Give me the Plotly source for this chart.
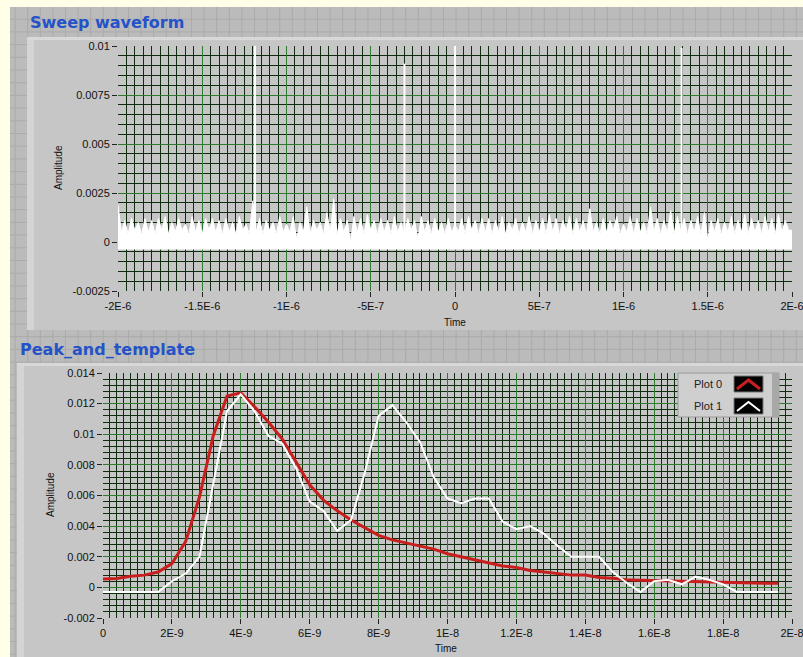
import plotly.graph_objects as go

W, H = 803, 657

# ---------------- data ----------------
# Sweep waveform (top): noise envelope samples, t0 and dt of the waveform
sweep_t0 = -2e-6
sweep_dt = 2e-8
sweep_base = -0.00036
sweep_noise = [
    0.0019, 0.0005, 0.0011, 0.0004, 0.0012, 0.0006, 0.0010, 0.0004, 0.0012, 0.0005,
    0.0011, 0.0004, 0.0012, 0.0006, 0.0013, 0.0004, 0.0010, 0.0005, 0.0012, 0.0006,
    0.0009, 0.0004, 0.0013, 0.0005, 0.0011, 0.0004, 0.0012, 0.0006, 0.0012, 0.0005,
    0.0011, 0.0004, 0.0012, 0.0005, 0.0010, 0.0004, 0.0013, 0.0006, 0.0009, 0.0004,
    0.0021, 0.0005, 0.0012, 0.0004, 0.0011, 0.0006, 0.0010, 0.0004, 0.0013, 0.0005,
    0.0009, 0.0005, 0.0013, 0.0001, 0.0010, 0.0005, 0.0018, 0.0004, 0.0011, 0.0006,
    0.0010, 0.0004, 0.0015, 0.0005, 0.0022, 0.0004, 0.0012, 0.0005, 0.0011, 0.0000,
    0.0013, 0.0005, 0.0012, 0.0004, 0.0014, 0.0006, 0.0011, 0.0004, 0.0012, 0.0005,
    0.0011, 0.0004, 0.0013, 0.0005, 0.0010, 0.0004, 0.0012, 0.0006, 0.0011, 0.0001,
    0.0013, 0.0005, 0.0011, 0.0004, 0.0012, 0.0005, 0.0010, 0.0004, 0.0012, 0.0005,
    0.0009, 0.0005, 0.0012, 0.0004, 0.0013, 0.0006, 0.0011, 0.0004, 0.0012, 0.0005,
    0.0012, 0.0004, 0.0011, 0.0005, 0.0013, 0.0004, 0.0010, 0.0006, 0.0012, 0.0004,
    0.0010, 0.0005, 0.0013, 0.0004, 0.0011, 0.0005, 0.0012, 0.0004, 0.0014, 0.0005,
    0.0012, 0.0004, 0.0011, 0.0006, 0.0013, 0.0004, 0.0012, 0.0005, 0.0011, 0.0004,
    0.0017, 0.0005, 0.0010, 0.0004, 0.0012, 0.0005, 0.0011, 0.0006, 0.0013, 0.0004,
    0.0009, 0.0005, 0.0013, 0.0004, 0.0012, 0.0005, 0.0010, 0.0004, 0.0018, 0.0005,
    0.0012, 0.0004, 0.0011, 0.0005, 0.0016, 0.0004, 0.0013, 0.0005, 0.0012, 0.0004,
    0.0011, 0.0005, 0.0013, 0.0004, 0.0015, 0.0001, 0.0011, 0.0005, 0.0012, 0.0004,
    0.0010, 0.0005, 0.0013, 0.0004, 0.0011, 0.0005, 0.0014, 0.0004, 0.0012, 0.0005,
    0.0011, 0.0004, 0.0013, 0.0005, 0.0012, 0.0004, 0.0014, 0.0005, 0.0011, 0.0006,
]
spike_t = [-1.187e-6, -3.0e-7, 0.0, 1.345e-6]
spike_v = [0.0106, 0.0091, 0.0106, 0.0099]

sweep_xticks = [-2e-6, -1.5e-6, -1e-6, -5e-7, 0, 5e-7, 1e-6, 1.5e-6, 2e-6]
sweep_xlabels = ["-2E-6", "-1.5E-6", "-1E-6", "-5E-7", "0", "5E-7", "1E-6", "1.5E-6", "2E-6"]
sweep_yticks = [-0.0025, 0, 0.0025, 0.005, 0.0075, 0.01]
sweep_ylabels = ["-0.0025", "0", "0.0025", "0.005", "0.0075", "0.01"]

# Peak_and_template (bottom)
peak_t0 = 0.0
peak_dt = 0.4e-9
plot0 = [  # red template
    0.00055, 0.00058, 0.00072, 0.00080, 0.00100, 0.00155, 0.0030, 0.0059, 0.0099, 0.0125,
    0.0127, 0.0118, 0.0108, 0.0097, 0.0082, 0.0067, 0.0057, 0.0050, 0.0044, 0.0039,
    0.0034, 0.0031, 0.0029, 0.0027, 0.0025, 0.0022, 0.0020, 0.0018, 0.0016, 0.0014,
    0.0013, 0.0011, 0.0010, 0.0009, 0.0008, 0.0008, 0.00065, 0.0006, 0.0005, 0.00046,
    0.00044, 0.0004, 0.0004, 0.00038, 0.00035, 0.0003, 0.00027, 0.00027, 0.00027, 0.00027,
]
plot1 = [  # white peak
    -0.0003, -0.0003, -0.0003, -0.0003, -0.0003, 0.0004, 0.0009, 0.0020, 0.0067, 0.0115,
    0.0126, 0.0115, 0.0099, 0.0094, 0.0078, 0.0056, 0.0050, 0.0037, 0.0044, 0.0075,
    0.0112, 0.0119, 0.0108, 0.0095, 0.0072, 0.0058, 0.0055, 0.0058, 0.0058, 0.0043,
    0.0038, 0.0040, 0.0035, 0.0027, 0.0020, 0.0020, 0.0020, 0.0010, 0.0003, -0.0003,
    0.0004, 0.0005, 0.0002, 0.0007, 0.0005, 0.0002, -0.0003, -0.0003, -0.0003, -0.0003,
]
peak_xticks = [0, 2e-9, 4e-9, 6e-9, 8e-9, 1e-8, 1.2e-8, 1.4e-8, 1.6e-8, 1.8e-8, 2e-8]
peak_xlabels = ["0", "2E-9", "4E-9", "6E-9", "8E-9", "1E-8", "1.2E-8", "1.4E-8", "1.6E-8", "1.8E-8", "2E-8"]
peak_yticks = [-0.002, 0, 0.002, 0.004, 0.006, 0.008, 0.01, 0.012, 0.014]
peak_ylabels = ["-0.002", "0", "0.002", "0.004", "0.006", "0.008", "0.01", "0.012", "0.014"]
legend_names = ["Plot 0", "Plot 1"]

# ---------------- helpers ----------------
def px(x):
    return x / W

def py(y):
    return 1 - y / H

RED = "#C81E1E"
PANEL = "#BBBBBB"
PANEL_GRID = "#ABABAB"
FRAME = "#C6C6C6"
MAJOR = "#2E7A2E"
MINOR = "#0F2C0F"
TITLE_BLUE = "#2452C8"
TICKFONT = dict(family="Liberation Sans, Arial, sans-serif", size=11, color="#111111")

fig = go.Figure()

sweep_t = [sweep_t0 + i * sweep_dt for i in range(len(sweep_noise))]
fig.add_trace(go.Scatter(x=[sweep_t0, sweep_t[-1] + sweep_dt], y=[sweep_base, sweep_base],
                         mode="lines", line=dict(color="white", width=1),
                         xaxis="x", yaxis="y", showlegend=False, hoverinfo="skip"))
fig.add_trace(go.Scatter(x=sweep_t + [sweep_t[-1] + sweep_dt], y=sweep_noise + [sweep_noise[-1]],
                         mode="lines", line=dict(color="white", width=1),
                         fill="tonexty", fillcolor="white",
                         xaxis="x", yaxis="y", showlegend=False, hoverinfo="skip"))
sx, sy = [], []
for t, v in zip(spike_t, spike_v):
    sx += [t, t, None]
    sy += [sweep_base, v, None]
fig.add_trace(go.Scatter(x=sx, y=sy, mode="lines", line=dict(color="white", width=2),
                         xaxis="x", yaxis="y", showlegend=False, hoverinfo="skip"))

peak_t = [peak_t0 + i * peak_dt for i in range(len(plot0))]
fig.add_trace(go.Scatter(x=peak_t, y=plot0, mode="lines", name=legend_names[0],
                         line=dict(color=RED, width=3), xaxis="x2", yaxis="y2", showlegend=False))
fig.add_trace(go.Scatter(x=peak_t, y=plot1, mode="lines", name=legend_names[1],
                         line=dict(color="white", width=2), xaxis="x2", yaxis="y2", showlegend=False))

def axis(domain, rng, vals, labels, tick0, minor_dt, anchor):
    return dict(domain=domain, range=rng, tickmode="array", tickvals=vals, ticktext=labels,
                ticks="outside", ticklen=5, tickcolor="#222222", tickwidth=1,
                tickfont=TICKFONT, showgrid=True, gridcolor=MAJOR, gridwidth=1,
                zeroline=False, showline=False, anchor=anchor, automargin=False,
                ticklabeloverflow="allow",
                minor=dict(tick0=tick0, dtick=minor_dt, showgrid=True, gridcolor=MINOR, gridwidth=1, ticks=""))

fig.update_layout(
    width=W, height=H,
    margin=dict(l=0, r=0, t=0, b=0, pad=0, autoexpand=False),
    paper_bgcolor=PANEL,
    plot_bgcolor="black",
    xaxis=axis([px(118), px(792)], [-2e-6, 2e-6], sweep_xticks, sweep_xlabels, -2e-6, 5e-8, "y"),
    yaxis=axis([py(291), py(46)], [-0.0025, 0.01], sweep_yticks, sweep_ylabels, -0.0025, 5e-4, "x"),
    xaxis2=axis([px(103), px(792)], [0, 2e-8], peak_xticks, peak_xlabels, 0, 2e-10, "y2"),
    yaxis2=axis([py(618), py(373)], [-0.002, 0.014], peak_yticks, peak_ylabels, -0.002, 4e-4, "x2"),
    showlegend=False,
)

shapes = []
# panel grid pattern
gx = 2.5
while gx < W:
    shapes.append(dict(type="line", xref="paper", yref="paper", x0=px(gx), x1=px(gx), y0=0, y1=1,
                       line=dict(color=PANEL_GRID, width=1), layer="below"))
    gx += 12.6
gy = 6.5
while gy < H:
    shapes.append(dict(type="line", xref="paper", yref="paper", x0=0, x1=1, y0=py(gy), y1=py(gy),
                       line=dict(color=PANEL_GRID, width=1), layer="below"))
    gy += 12.7
# yellow margins
shapes.append(dict(type="rect", xref="paper", yref="paper", x0=0, x1=px(10), y0=0, y1=1,
                   fillcolor="#FFFFE8", line=dict(width=0), layer="below"))
shapes.append(dict(type="rect", xref="paper", yref="paper", x0=0, x1=1, y0=py(7), y1=1,
                   fillcolor="#FFFFE8", line=dict(width=0), layer="below"))
# graph frames
for (x0, y0, y1) in [(27, 37, 330), (17, 363, 660)]:
    shapes.append(dict(type="rect", xref="paper", yref="paper", x0=px(x0), x1=px(806), y0=py(y1), y1=py(y0),
                       fillcolor=FRAME, line=dict(width=0), layer="below"))
    shapes.append(dict(type="rect", xref="paper", yref="paper", x0=px(x0), x1=px(x0 + 7), y0=py(y1), y1=py(y0),
                       fillcolor="#D4D4D4", line=dict(width=0), layer="below"))
    shapes.append(dict(type="rect", xref="paper", yref="paper", x0=px(x0), x1=px(806), y0=py(y0 + 3), y1=py(y0),
                       fillcolor="#D8D8D8", line=dict(width=0), layer="below"))

# custom legend box
shapes.append(dict(type="rect", xref="paper", yref="paper", x0=px(678), x1=px(779), y0=py(417), y1=py(373),
                   fillcolor="#CFCFCF", line=dict(color="#9A9A9A", width=1), layer="above"))
shapes.append(dict(type="rect", xref="paper", yref="paper", x0=px(772), x1=px(779), y0=py(417), y1=py(373),
                   fillcolor="#A8A8A8", line=dict(width=0), layer="above"))
legend_rows = [(376, 392, RED, 3), (398, 414, "white", 2)]
for (t, b, col, w) in legend_rows:
    shapes.append(dict(type="rect", xref="paper", yref="paper", x0=px(734), x1=px(763), y0=py(b), y1=py(t),
                       fillcolor="black", line=dict(color="#777777", width=1), layer="above"))
    mid = (t + b) / 2
    path = "M {} {} L {} {} L {} {}".format(px(737), py(mid + 5), px(748.5), py(mid - 4), px(760), py(mid + 5))
    shapes.append(dict(type="path", xref="paper", yref="paper", path=path,
                       line=dict(color=col, width=w), layer="above"))

annotations = []
LBLFONT = dict(family="Liberation Sans, Arial, sans-serif", size=10, color="#111111")
for name, yy in zip(legend_names, [384, 406]):
    annotations.append(dict(x=px(708), y=py(yy), xref="paper", yref="paper", text=name, showarrow=False,
                            font=dict(family="Liberation Sans, Arial, sans-serif", size=11, color="#222222"),
                            xanchor="center", yanchor="middle"))
TITLEFONT = dict(family="DejaVu Sans, sans-serif", size=16, color=TITLE_BLUE, weight="bold")
annotations.append(dict(x=px(28), y=py(22), xref="paper", yref="paper", text="Sweep waveform",
                        showarrow=False, font=TITLEFONT, xanchor="left", yanchor="middle"))
annotations.append(dict(x=px(18), y=py(349), xref="paper", yref="paper", text="Peak_and_template",
                        showarrow=False, font=TITLEFONT, xanchor="left", yanchor="middle"))
annotations.append(dict(x=px(58), y=py(168), xref="paper", yref="paper", text="Amplitude", textangle=-90,
                        showarrow=False, font=LBLFONT, xanchor="center", yanchor="middle"))
annotations.append(dict(x=px(50), y=py(495), xref="paper", yref="paper", text="Amplitude", textangle=-90,
                        showarrow=False, font=LBLFONT, xanchor="center", yanchor="middle"))
annotations.append(dict(x=px(455), y=py(322), xref="paper", yref="paper", text="Time",
                        showarrow=False, font=LBLFONT, xanchor="center", yanchor="middle"))
annotations.append(dict(x=px(446), y=py(648), xref="paper", yref="paper", text="Time",
                        showarrow=False, font=LBLFONT, xanchor="center", yanchor="middle"))

fig.update_layout(shapes=shapes, annotations=annotations)
fig.write_html("out.html")
